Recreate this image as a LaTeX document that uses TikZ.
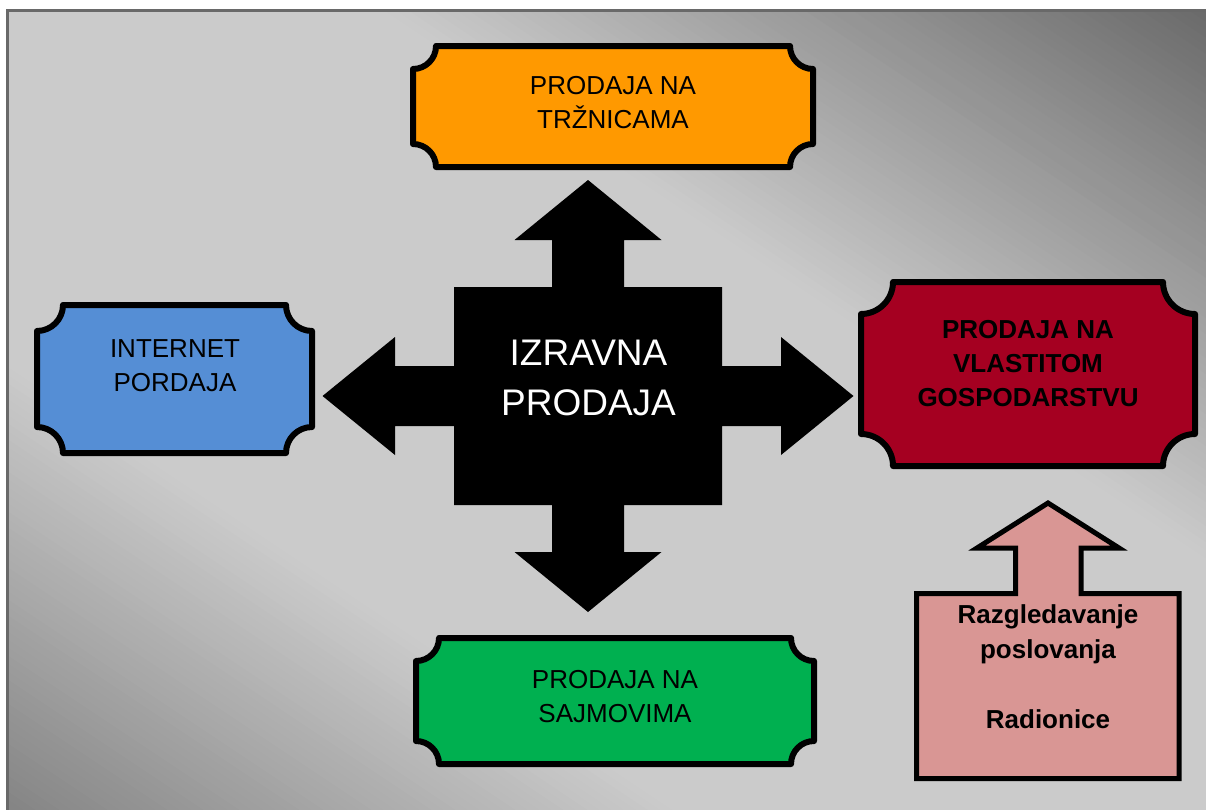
\documentclass[tikz,border=0pt]{standalone}
\usepackage{fontspec}
\setmainfont{Liberation Sans}
\definecolor{gA}{HTML}{686868}
\definecolor{gB}{HTML}{858585}
\definecolor{gL}{HTML}{CBCBCB}
\definecolor{frameC}{HTML}{696969}
\definecolor{cOrange}{HTML}{FF9900}
\definecolor{cBlue}{HTML}{558ED5}
\definecolor{cRed}{HTML}{A50021}
\definecolor{cGreen}{HTML}{00B050}
\definecolor{cPink}{HTML}{D99694}
\newcommand\myplaque[6]{%
  \draw[#1] (#2+#6,#3) -- (#4-#6,#3)
    .. controls (#4-#6,#3+0.552*#6) and (#4-0.552*#6,#3+#6) .. (#4,#3+#6)
    -- (#4,#5-#6)
    .. controls (#4-0.552*#6,#5-#6) and (#4-#6,#5-0.552*#6) .. (#4-#6,#5)
    -- (#2+#6,#5)
    .. controls (#2+#6,#5-0.552*#6) and (#2+0.552*#6,#5-#6) .. (#2,#5-#6)
    -- (#2,#3+#6)
    .. controls (#2+0.552*#6,#3+#6) and (#2+#6,#3+0.552*#6) .. (#2+#6,#3)
    -- cycle;}
\tikzset{
  plaque/.style={draw=black, line width=6pt, line join=round},
  lbl/.style={align=center, font=\fontsize{26}{34}\selectfont, text=black, inner sep=0pt},
  lblb/.style={lbl, font=\fontsize{26}{34}\selectfont\bfseries},
}
\begin{document}
\begin{tikzpicture}[x=1pt,y=-1pt]
\useasboundingbox (0,0) rectangle (1206,809);
\fill[white] (0,0) rectangle (1206,809);
% background gradient
\begin{scope}
\clip (7.5,10.5) rectangle (1206,809);
\begin{scope}[shift={(603,404)}, rotate=56.3]
\foreach \i in {-140,...,140}{
  \pgfmathtruncatemacro\pp{100*max(0,min(1,(-0.45-(\i)/100)/0.55))}
  \pgfmathtruncatemacro\qq{100*max(0,min(1,((\i)/100-0.3)/0.7))}
  \ifnum\i<0 \colorlet{bgc}{gB!\pp!gL}\else\colorlet{bgc}{gA!\qq!gL}\fi
  \fill[bgc] (\i*6.66,-1300) -- (\i*6.66+7.6,-1300) -- (\i*6.66+7.6,1300) -- (\i*6.66,1300) -- cycle;
}
\end{scope}
\end{scope}
\draw[frameC, line width=3pt] (7.5,10.5) rectangle (1230,830);
% central quad arrow
\fill[black] (588,180) -- (661.5,240) -- (624,240) -- (624,287) -- (722,287) -- (722,366)
  -- (781,366) -- (781,337) -- (853.5,396) -- (781,455) -- (781,426) -- (722,426)
  -- (722,505) -- (624,505) -- (624,552) -- (661.5,552) -- (588,612) -- (514.5,552)
  -- (552,552) -- (552,505) -- (454,505) -- (454,426) -- (395,426) -- (395,455)
  -- (322.5,396) -- (395,337) -- (395,366) -- (454,366) -- (454,287) -- (552,287)
  -- (552,240) -- (514.5,240) -- cycle;
\node[align=center, font=\fontsize{37}{50}\selectfont, text=white, inner sep=0pt] (center) at (588.5,378) {IZRAVNA\\PRODAJA};
% plaques
\myplaque{plaque, fill=cOrange}{413}{46}{813}{167}{23}
\node[lbl] (top) at (613,103) {PRODAJA NA\\TRŽNICAMA};
\myplaque{plaque, fill=cBlue}{37}{305}{312}{453}{26}
\node[lbl] (left) at (175,365.5) {INTERNET\\PORDAJA};
\myplaque{plaque, fill=cRed}{861}{282}{1195}{466}{32}
\node[lblb] (right) at (1028,364) {PRODAJA NA\\VLASTITOM\\GOSPODARSTVU};
\myplaque{plaque, fill=cGreen}{416}{638}{814}{764}{23}
\node[lbl] (bottom) at (615,696.5) {PRODAJA NA\\SAJMOVIMA};
% pink up-arrow callout
\draw[fill=cPink, draw=black, line width=5pt, line join=miter]
  (916.5,593.5) -- (1015.5,593.5) -- (1015.5,548) -- (977,548) -- (1048,503)
  -- (1119,548) -- (1081,548) -- (1081,593.5) -- (1179,593.5) -- (1179,778.5)
  -- (916.5,778.5) -- cycle;
\node[lblb, font=\fontsize{26}{35}\selectfont\bfseries] (callout) at (1048,667) {Razgledavanje\\poslovanja\\[35pt]Radionice};
\end{tikzpicture}
\end{document}
